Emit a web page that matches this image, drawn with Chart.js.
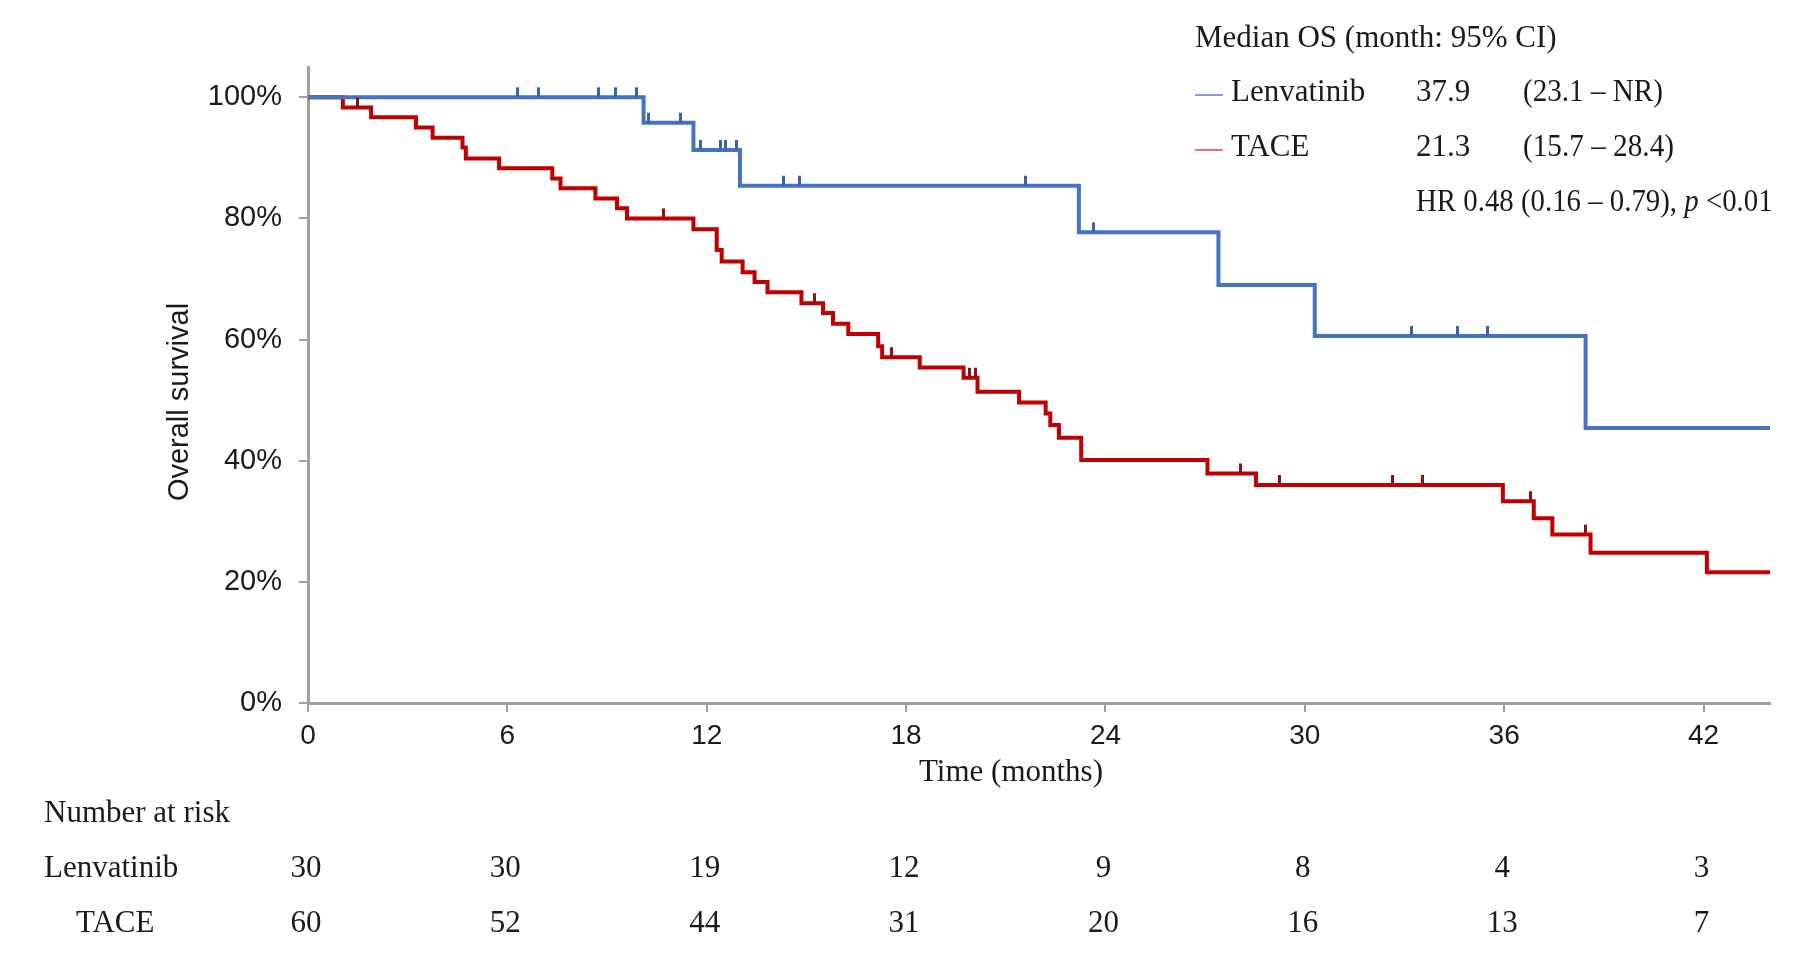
<!DOCTYPE html>
<html>
<head>
<meta charset="utf-8">
<script src="https://cdn.jsdelivr.net/npm/chart.js@4.4.1/dist/chart.umd.min.js"></script>
<style>
  body { margin: 0; background: #fff; }
  #box { width: 1808px; height: 957px; }
</style>
</head>
<body>
<div id="box"><canvas id="km"></canvas></div>
<script>
// Kaplan-Meier data (months, % surviving)
const lenvTimes = [0, 10.1, 11.6, 13.0, 23.2, 27.4, 30.3, 38.45, 44]
const lenvSurv = [100, 95.8, 91.3, 85.4, 77.7, 69.0, 60.6, 45.4, 45.4]
const lenvCensor = [6.3, 6.95, 8.75, 9.25, 9.9, 10.25, 11.2, 11.8, 12.4, 12.55, 12.9, 14.3, 14.8, 21.6, 23.65, 33.2, 34.6, 35.5]

const taceTimes = [0, 1.05, 1.9, 3.25, 3.75, 4.65, 4.75, 5.75, 7.35, 7.6, 8.65, 9.3, 9.6, 11.6, 12.3, 12.45,
  13.08, 13.44, 13.83, 14.85, 15.5, 15.8, 16.26, 17.16, 17.28, 18.41, 19.73, 20.15, 21.4, 22.2, 22.34, 22.6,
  23.27, 27.07, 28.53, 35.96, 36.89, 37.45, 38.6, 42.1, 44]
const taceSurv = [100, 98.3, 96.7, 95.0, 93.3, 91.7, 89.9, 88.3, 86.6, 85.0, 83.3, 81.7, 80.0, 78.2, 74.8, 72.9,
  71.1, 69.5, 67.8, 66.0, 64.4, 62.6, 60.9, 58.9, 57.1, 55.4, 53.7, 51.4, 49.6, 47.8, 45.9, 43.8,
  40.1, 37.9, 36.0, 33.3, 30.5, 27.8, 24.8, 21.6, 21.6]
const taceCensor = [1.5, 10.7, 15.25, 17.55, 19.9, 20.1, 28.05, 29.25, 32.65, 33.55, 36.8, 38.45]

// number at risk table
const riskTimes = [0, 6, 12, 18, 24, 30, 36, 42]
const lenvRisk = [30, 30, 19, 12, 9, 8, 4, 3]
const taceRisk = [60, 52, 44, 31, 20, 16, 13, 7]

const BLUE = '#4472c4'
const RED = '#c00000'
const AXIS = '#a0a0a0'
const INK = '#1a1a1a'
const SERIF = '"Liberation Serif", "Times New Roman", serif'
const SANS = '"Liberation Sans", Arial, sans-serif'

function toPoints(times, surv) {
  return times.map((t, i) => ({ x: t, y: surv[i] }))
}

// survival value of the curve at time t (for placing censor marks)
function survAt(times, surv, t) {
  let v = surv[0]
  for (let i = 0; i < times.length; i++) {
    if (times[i] <= t) v = surv[i]
  }
  return v
}

function censorPoints(cens, times, surv) {
  return cens.map(t => ({ x: t, y: survAt(times, surv, t) }))
}

// little upward tick used as censor marker
function tickMark(color) {
  const c = document.createElement('canvas')
  c.width = 3
  c.height = 22
  const g = c.getContext('2d')
  g.fillStyle = color
  g.fillRect(0, 1, 3, 10)
  return c
}

const textPlugin = {
  id: 'kmText',
  afterDraw(chart) {
    const ctx = chart.ctx
    const xs = chart.scales.x
    ctx.save()
    ctx.fillStyle = INK
    ctx.textBaseline = 'middle'

    // axis titles
    ctx.textAlign = 'center'
    ctx.font = '31px ' + SERIF
    ctx.fillText('Time (months)', 1011, 773)
    ctx.save()
    ctx.translate(180, 402)
    ctx.rotate(-Math.PI / 2)
    ctx.font = '29px ' + SANS
    ctx.fillText('Overall survival', 0, 0)
    ctx.restore()

    // median OS block
    ctx.font = '31px ' + SERIF
    ctx.textAlign = 'left'
    ctx.fillText('Median OS (month: 95% CI)', 1195, 39)

    ctx.lineWidth = 1.6
    ctx.strokeStyle = '#6f7fd6'
    ctx.beginPath(); ctx.moveTo(1195, 95); ctx.lineTo(1223, 95); ctx.stroke()
    ctx.strokeStyle = '#e0504a'
    ctx.beginPath(); ctx.moveTo(1195, 150); ctx.lineTo(1223, 150); ctx.stroke()

    ctx.fillText('Lenvatinib', 1231, 93)
    ctx.fillText('37.9', 1416, 93)
    ctx.fillText('(23.1 \u2013 NR)', 1523, 93, 140)
    ctx.fillText('TACE', 1231, 148)
    ctx.fillText('21.3', 1416, 148)
    ctx.fillText('(15.7 \u2013 28.4)', 1523, 148, 151)

    // HR line, squeezed a little to match the narrower original face
    ctx.save()
    ctx.translate(1416, 203)
    ctx.scale(0.93, 1)
    let x = 0
    const part1 = 'HR 0.48 (0.16 \u2013 0.79), '
    ctx.fillText(part1, x, 0)
    x += ctx.measureText(part1).width
    ctx.font = 'italic 31px ' + SERIF
    ctx.fillText('p', x, 0)
    x += ctx.measureText('p').width
    ctx.font = '31px ' + SERIF
    ctx.fillText(' <0.01', x, 0)
    ctx.restore()

    // number at risk
    ctx.fillText('Number at risk', 44, 814)
    ctx.fillText('Lenvatinib', 44, 869)
    ctx.fillText('TACE', 76, 924)
    ctx.textAlign = 'center'
    riskTimes.forEach((t, i) => {
      const px = xs.getPixelForValue(t)
      ctx.fillText(String(lenvRisk[i]), px - 2, 869)
      ctx.fillText(String(taceRisk[i]), px - 2, 924)
    })
    ctx.restore()
  }
}

const data = {
  datasets: [
    {
      label: 'Lenvatinib censored',
      type: 'scatter',
      data: censorPoints(lenvCensor, lenvTimes, lenvSurv),
      pointStyle: tickMark('#3b63ad'),
      pointRadius: 5,
      showLine: false
    },
    {
      label: 'TACE censored',
      type: 'scatter',
      data: censorPoints(taceCensor, taceTimes, taceSurv),
      pointStyle: tickMark('#8e1010'),
      pointRadius: 5,
      showLine: false
    },
    {
      label: 'Lenvatinib',
      data: toPoints(lenvTimes, lenvSurv),
      borderColor: BLUE,
      borderWidth: 4,
      stepped: 'before',
      pointRadius: 0,
      fill: false
    },
    {
      label: 'TACE',
      data: toPoints(taceTimes, taceSurv),
      borderColor: RED,
      borderWidth: 4,
      stepped: 'before',
      pointRadius: 0,
      fill: false
    }
  ]
}

const config = {
  type: 'line',
  data,
  plugins: [textPlugin],
  options: {
    responsive: true,
    maintainAspectRatio: false,
    animation: false,
    layout: { padding: { left: 165, top: 67, right: 38, bottom: 0 } },
    plugins: {
      legend: { display: false },
      tooltip: { enabled: false }
    },
    scales: {
      x: {
        type: 'linear',
        min: 0,
        max: 44,
        afterFit: s => { s.height = 254 },
        border: { display: true, color: AXIS, width: 3 },
        grid: { drawOnChartArea: false, drawTicks: true, tickLength: 9, color: AXIS, lineWidth: 2 },
        ticks: {
          stepSize: 6,
          includeBounds: false,
          padding: 7,
          color: INK,
          font: { family: SANS, size: 28 }
        }
      },
      y: {
        min: 0,
        max: 105,
        afterFit: s => { s.width = 143 },
        border: { display: true, color: AXIS, width: 3 },
        grid: { drawOnChartArea: false, drawTicks: true, tickLength: 9, color: AXIS, lineWidth: 2 },
        ticks: {
          stepSize: 20,
          includeBounds: false,
          padding: 17,
          color: INK,
          font: { family: SANS, size: 29 },
          callback: v => v + '%'
        }
      }
    }
  }
}

const graph = new Chart(document.getElementById('km'), config)
</script>
</body>
</html>
